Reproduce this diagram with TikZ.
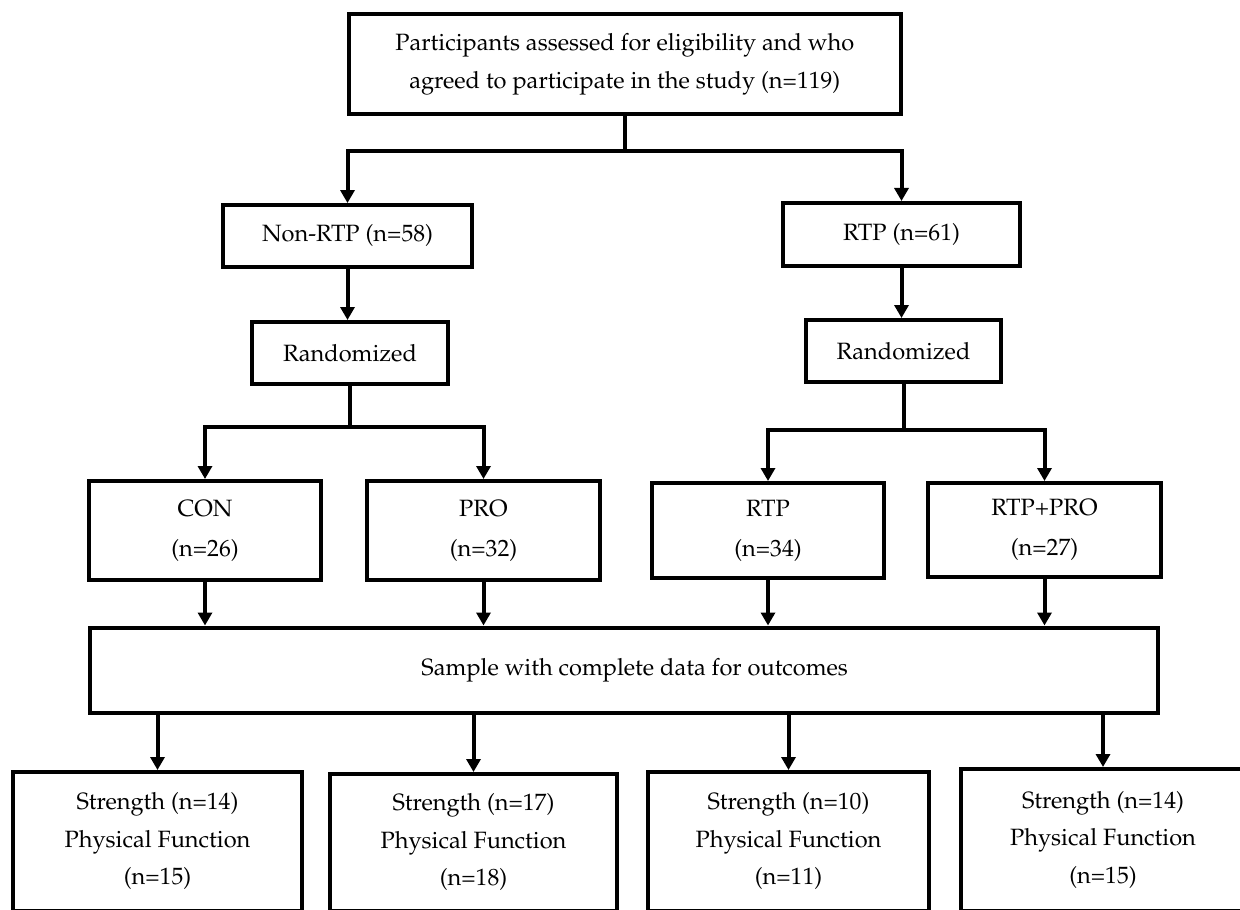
\documentclass[tikz,border=0pt]{standalone}
\usepackage[T1]{fontenc}
\usepackage{mathpazo}
\usetikzlibrary{arrows.meta}
\begin{document}
\begin{tikzpicture}[x=0.5pt,y=-0.5pt,
  box/.style={draw=black, line width=2pt, inner sep=0pt, align=center,
              font=\fontsize{11.8}{18.8}\selectfont},
  box2/.style={box, font=\fontsize{11.8}{20}\selectfont},
  ln/.style={line width=2pt},
  arr/.style={line width=2pt, -{Triangle[width=7pt,length=6.5pt]}}]
\useasboundingbox (0,0) rectangle (1240,909);
\clip (0,0) rectangle (1240,909);
\fill[white] (0,0) rectangle (1240,909);

% nodes
\node[box, minimum width=275.8pt, minimum height=50pt] (top) at (624.8,64)
  {Participants assessed for eligibility and who\\agreed to participate in the study (n=119)};
\node[box, minimum width=124.5pt, minimum height=30.75pt] (nonrtp) at (347.5,235.8) {Non-RTP (n=58)};
\node[box, minimum width=118.5pt, minimum height=31.5pt] (rtp) at (901.5,234.5) {RTP (n=61)};
\node[box, minimum width=98pt, minimum height=31pt] (randL) at (350,353) {Randomized};
\node[box, minimum width=97.5pt, minimum height=31pt] (randR) at (903.5,351) {Randomized};
\node[box2, minimum width=116pt, minimum height=49.5pt] (con) at (205,530.5) {CON\\(n=26)};
\node[box2, minimum width=116.5pt, minimum height=49.5pt] (pro) at (483.5,530.5) {PRO\\(n=32)};
\node[box2, minimum width=116pt, minimum height=47.5pt] (rtpb) at (768,530.5) {RTP\\(n=34)};
\node[box2, minimum width=116.5pt, minimum height=47pt] (rtppro) at (1044.5,530) {RTP+PRO\\(n=27)};
\node[box, minimum width=533.75pt, minimum height=42.75pt] (sample) at (623.75,670.25)
  {\raisebox{-5.5pt}{\hspace*{11pt}Sample with complete data for outcomes}};
\node[box, minimum width=144.5pt, minimum height=69.25pt] (b1) at (157.5,841.25)
  {Strength (n=14)\\Physical Function\\(n=15)};
\node[box, minimum width=143.5pt, minimum height=68.25pt] (b2) at (473.5,842.25)
  {Strength (n=17)\\Physical Function\\(n=18)};
\node[box, minimum width=140.5pt, minimum height=69.25pt] (b3) at (788.5,841.25)
  {Strength (n=10)\\Physical Function\\(n=11)};
\node[box, minimum width=142pt, minimum height=70.75pt] (b4) at (1103,839.75)
  {Strength (n=14)\\Physical Function\\(n=15)};

% junction levels
\coordinate (h1) at (0,151);
\coordinate (h2) at (0,427);
\coordinate (h3) at (0,430);

% connectors
\draw[ln] (top.south) -- (top.south |- h1);
\draw[arr] (top.south |- h1) -| (nonrtp.north);
\draw[arr] (top.south |- h1) -| (rtp.north);

\draw[arr] (nonrtp.south) -- (nonrtp.south |- randL.north);
\draw[arr] (rtp.south) -- (rtp.south |- randR.north);

\draw[ln] (randL.south) -- (randL.south |- h2);
\draw[arr] (randL.south |- h2) -| (con.north);
\draw[arr] (randL.south |- h2) -| (pro.north);

\draw[ln] (randR.south) -- (randR.south |- h3);
\draw[arr] (randR.south |- h3) -| (rtpb.north);
\draw[arr] (randR.south |- h3) -| (rtppro.north);

\draw[arr] (con.south) -- (con.south |- sample.north);
\draw[arr] (pro.south) -- (pro.south |- sample.north);
\draw[arr] (rtpb.south) -- (rtpb.south |- sample.north);
\draw[arr] (rtppro.south) -- (rtppro.south |- sample.north);

\draw[arr] (b1.north |- sample.south) -- (b1.north);
\draw[arr] (b2.north |- sample.south) -- (b2.north);
\draw[arr] (b3.north |- sample.south) -- (b3.north);
\draw[arr] (b4.north |- sample.south) -- (b4.north);
\end{tikzpicture}
\end{document}
